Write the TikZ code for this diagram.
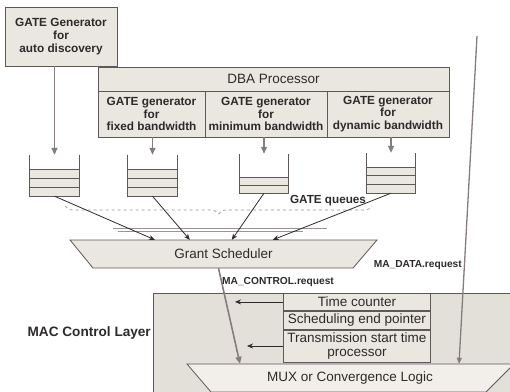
\documentclass[tikz,border=0pt]{standalone}
\usepackage{fontspec}
\setmainfont{Liberation Sans}
\usepackage{tikz}
\usetikzlibrary{arrows.meta, positioning, decorations.pathreplacing}
\definecolor{edge}{HTML}{5F5858}
\definecolor{ink}{HTML}{2E2A2A}
\definecolor{arrowgray}{HTML}{857D7D}
\definecolor{boxfill}{HTML}{EAE7E1}
\definecolor{layerfill}{HTML}{E3E0DA}
\definecolor{muxfill}{HTML}{F2EFEA}
\definecolor{faint}{HTML}{9A9494}

\begin{document}
\begin{tikzpicture}[x=1pt, y=-1pt,
    genbox/.style={rectangle, draw=edge, fill=boxfill, line width=0.8pt, align=center, font=\bfseries\fontsize{11.8}{12.8}\selectfont, text=ink, inner sep=1pt},
    plainbox/.style={rectangle, draw=edge, fill=boxfill, line width=0.8pt, align=center, font=\fontsize{13.5}{14.3}\selectfont, text=ink, inner sep=1pt},
    ghost/.style={rectangle, inner sep=0pt, align=center, font=\fontsize{13.5}{14.3}\selectfont, text=ink},
    queue/.style={rectangle, inner sep=0pt},
    layer/.style={draw=edge, fill=boxfill, line width=0.7pt},
    feed/.style={-{Triangle[width=6pt,length=7pt]}, draw=arrowgray, line width=1.6pt},
    grant/.style={-{Stealth[width=5pt,length=6pt]}, draw=ink, line width=0.8pt},
    tag/.style={font=\bfseries\fontsize{10.2}{12}\selectfont, text=ink, inner sep=0pt}
]
    \useasboundingbox (0,0) rectangle (510,391);

    % generators
    \node[genbox, minimum width=112pt, minimum height=59pt] (auto) at (61,36.5) {GATE Generator\\for\\auto discovery};
    \node[plainbox, minimum width=351pt, minimum height=24pt] (dba) at (273.5,79) {DBA Processor};
    \node[genbox, minimum width=107pt, minimum height=46pt] (fixed) at (151.5,114) {GATE generator\\for\\fixed bandwidth};
    \node[genbox, minimum width=122pt, minimum height=46pt] (minbw) at (266,114) {GATE generator\\for\\minimum bandwidth};
    \node[genbox, minimum width=122pt, minimum height=46pt] (dynbw) at (388,114) {GATE generator\\for\\dynamic bandwidth};

    % queues
    \node[queue, minimum width=49pt, minimum height=41pt] (q1) at (54.5,175.5) {};
    \node[queue, minimum width=49pt, minimum height=41pt] (q2) at (152.5,175.5) {};
    \node[queue, minimum width=48pt, minimum height=39pt] (q3) at (264,173.5) {};
    \node[queue, minimum width=48pt, minimum height=40pt] (q4) at (391,173) {};
    \foreach \q/\n/\h in {q1/3/9, q2/3/9, q3/2/8, q4/3/8.7} {
        \foreach \k in {1,...,\n}
            \draw[layer] ([yshift={(\k-1)*\h}]\q.south west) rectangle ([yshift={\k*\h}]\q.south east);
        \draw[edge, line width=0.8pt] (\q.north west) -- (\q.south west) -- (\q.south east) -- (\q.north east);
    }

    \draw[feed] (q1.north |- auto.south) -- (q1.north);
    \draw[feed, line width=1.2pt] (q2.north |- fixed.south) -- (q2.north);
    \draw[feed, line width=1.2pt] (q3.north |- minbw.south) -- (q3.north);
    \draw[feed, line width=1.2pt] (q4.north |- dynbw.south) -- (q4.north);

    % gate queues brace
    \coordinate (braceL) at (65,206);
    \coordinate (braceR) at (372,206);
    \draw[faint, dashed, line width=0.7pt, decorate, decoration={brace, mirror, amplitude=8pt}] (braceL) -- (braceR);
    \node[tag, font=\bfseries\fontsize{11.7}{13}\selectfont] (gqlbl) at (328,201) {GATE queues};
    \coordinate (dblA) at (113,228);
    \coordinate (dblB) at (327,228);
    \coordinate (dblC) at (118,231);
    \coordinate (dblD) at (303,231);
    \draw[faint, line width=0.5pt] (dblA) -- (dblB);
    \draw[faint, line width=0.5pt] (dblC) -- (dblD);

    % grant scheduler
    \fill[boxfill] (70,240) -- (377,240) -- (353,268) -- (93,268) -- cycle;
    \draw[edge, line width=0.8pt] (70,240) -- (377,240) -- (353,268) -- (93,268) -- cycle;
    \node[ghost, minimum width=307pt, minimum height=28pt] (gs) at (223.5,254) {Grant Scheduler};
    \draw[grant] (q1.south) -- ([xshift=85pt]gs.north west);
    \draw[grant] (q2.south) -- ([xshift=120pt]gs.north west);
    \draw[grant] (q3.south) -- ([xshift=162pt]gs.north west);
    \draw[grant] (q4.south) -- ([xshift=203pt]gs.north west);

    % MAC control layer
    \node[rectangle, draw=edge, fill=layerfill, line width=0.8pt, anchor=north west, minimum width=370pt, minimum height=110pt] (mac) at (153,293) {};
    \node[tag, font=\bfseries\fontsize{13.6}{15}\selectfont, anchor=east] (maclbl) at (151,333) {MAC Control Layer};
    \node[plainbox, minimum width=147pt, minimum height=17pt, anchor=north west] (tc) at (283,293) {Time counter};
    \node[plainbox, minimum width=147pt, minimum height=18pt, below=0pt of tc] (sep) {Scheduling end pointer};
    \node[plainbox, minimum width=147pt, minimum height=32pt, below=0pt of sep] (tsp) {Transmission start time\\processor};
    \coordinate (tcend) at (235,302);
    \coordinate (tspend) at (247,342);
    \draw[grant, line width=0.6pt] (tc.west) -- (tc.west -| tcend);
    \draw[grant, line width=0.6pt] (tsp.west) -- (tsp.west -| tspend);

    % MUX
    \fill[muxfill] (187,364) -- (514,364) -- (486,392) -- (211,392) -- cycle;
    \draw[edge, line width=0.8pt] (187,364) -- (514,364) -- (486,392) -- (211,392) -- cycle;
    \node[ghost, minimum width=327pt, minimum height=28pt] (mux) at (350,378) {MUX or Convergence Logic};

    % requests
    \draw[feed] ([xshift=-5pt]gs.south) -- ([xshift=-110pt]mux.north);
    \node[tag, anchor=west] (ctrllbl) at (222,282) {MA\_CONTROL.request};
    \coordinate (datatop) at (477,36);
    \draw[feed, line width=1.3pt, -{Triangle[width=5pt,length=6pt]}] (datatop) -- ([xshift=109pt]mux.north);
    \node[tag, anchor=east] (datalbl) at (462,265) {MA\_DATA.request};
\end{tikzpicture}
\end{document}
